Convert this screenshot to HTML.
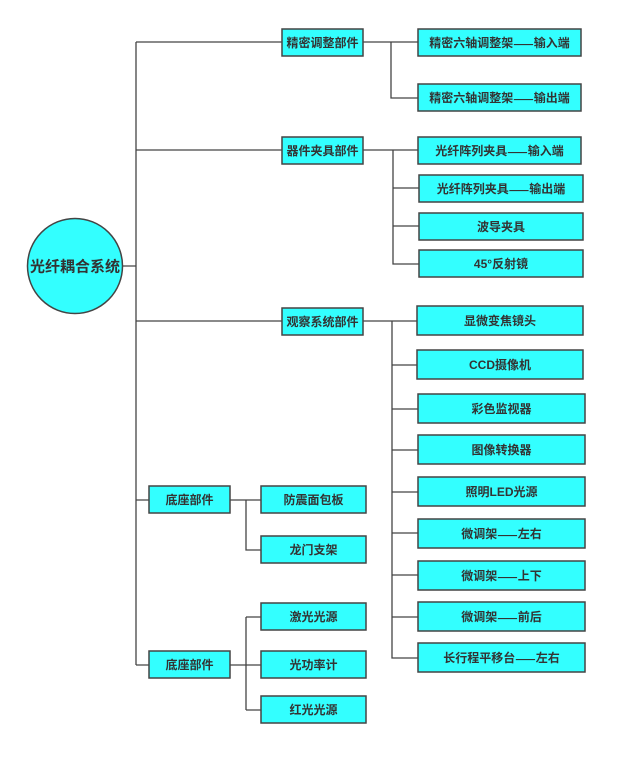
<!DOCTYPE html>
<html><head><meta charset="utf-8"><style>
html,body{margin:0;padding:0;background:#fff}
svg text{font-family:"Liberation Sans","Noto Sans CJK SC",sans-serif;font-weight:bold;fill:#333;text-anchor:middle;dominant-baseline:central}
svg tspan.d{font-family:"Noto Sans CJK SC",sans-serif}
</style></head><body>
<svg width="619" height="761" viewBox="0 0 619 761" xmlns="http://www.w3.org/2000/svg">
<g stroke="#444" stroke-width="1.3" fill="none">
<path d="M122 266H136M136 42V665M136 42H282M136 150H282M136 321H282M136 500H149M136 665H149"/>
<path d="M363 42H418M391 42V98H418"/>
<path d="M363 150H418M393 150V264H419M393 188H419M393 226H419"/>
<path d="M363 321H417M392 321V658H418M392 365H417M392 409H418M392 450H418M392 492H418M392 533H418M392 575H418M392 617H418"/>
<path d="M230 500H261M246 500V550H261"/>
<path d="M230 665H261M246 617V710M246 617H261M246 710H261"/>
</g>
<g fill="#33ffff" stroke="#444" stroke-width="1.5">
<circle cx="75" cy="266" r="47.5"/>
<rect x="282" y="29" width="81" height="27"/>
<rect x="282" y="137" width="81" height="27"/>
<rect x="282" y="308" width="81" height="27"/>
<rect x="149" y="486" width="81" height="27"/>
<rect x="149" y="651" width="81" height="27"/>
<rect x="418" y="29" width="163" height="27"/>
<rect x="418" y="84" width="163" height="27"/>
<rect x="418" y="137" width="163" height="27"/>
<rect x="419" y="175" width="164" height="27"/>
<rect x="419" y="213" width="164" height="27"/>
<rect x="419" y="250" width="164" height="27"/>
<rect x="417" y="306" width="166" height="29"/>
<rect x="417" y="350" width="166" height="29"/>
<rect x="418" y="394" width="167" height="29"/>
<rect x="418" y="435" width="167" height="29"/>
<rect x="418" y="477" width="167" height="29"/>
<rect x="418" y="519" width="167" height="29"/>
<rect x="418" y="561" width="167" height="29"/>
<rect x="418" y="602" width="167" height="29"/>
<rect x="418" y="643" width="167" height="29"/>
<rect x="261" y="486" width="105" height="27"/>
<rect x="261" y="536" width="105" height="27"/>
<rect x="261" y="603" width="105" height="27"/>
<rect x="261" y="651" width="105" height="27"/>
<rect x="261" y="696" width="105" height="27"/>
</g>
<text x="75" y="267" font-size="15">光纤耦合系统</text>
<g font-size="12">
<text x="322.5" y="43">精密调整部件</text>
<text x="322.5" y="151">器件夹具部件</text>
<text x="322.5" y="322">观察系统部件</text>
<text x="189.5" y="500">底座部件</text>
<text x="189.5" y="665">底座部件</text>
<text x="499.5" y="43">精密六轴调整架<tspan class="d">——</tspan>输入端</text>
<text x="499.5" y="98">精密六轴调整架<tspan class="d">——</tspan>输出端</text>
<text x="499.5" y="151">光纤阵列夹具<tspan class="d">——</tspan>输入端</text>
<text x="501" y="189">光纤阵列夹具<tspan class="d">——</tspan>输出端</text>
<text x="501" y="227">波导夹具</text>
<text x="501" y="264">45°反射镜</text>
<text x="500" y="321">显微变焦镜头</text>
<text x="500" y="365">CCD摄像机</text>
<text x="501.5" y="409">彩色监视器</text>
<text x="501.5" y="450">图像转换器</text>
<text x="501.5" y="492">照明LED光源</text>
<text x="501.5" y="534">微调架<tspan class="d">——</tspan>左右</text>
<text x="501.5" y="576">微调架<tspan class="d">——</tspan>上下</text>
<text x="501.5" y="617">微调架<tspan class="d">——</tspan>前后</text>
<text x="501.5" y="658">长行程平移台<tspan class="d">——</tspan>左右</text>
<text x="313.5" y="500">防震面包板</text>
<text x="313.5" y="550">龙门支架</text>
<text x="313.5" y="617">激光光源</text>
<text x="313.5" y="665">光功率计</text>
<text x="313.5" y="710">红光光源</text>
</g>
</svg>
</body></html>
